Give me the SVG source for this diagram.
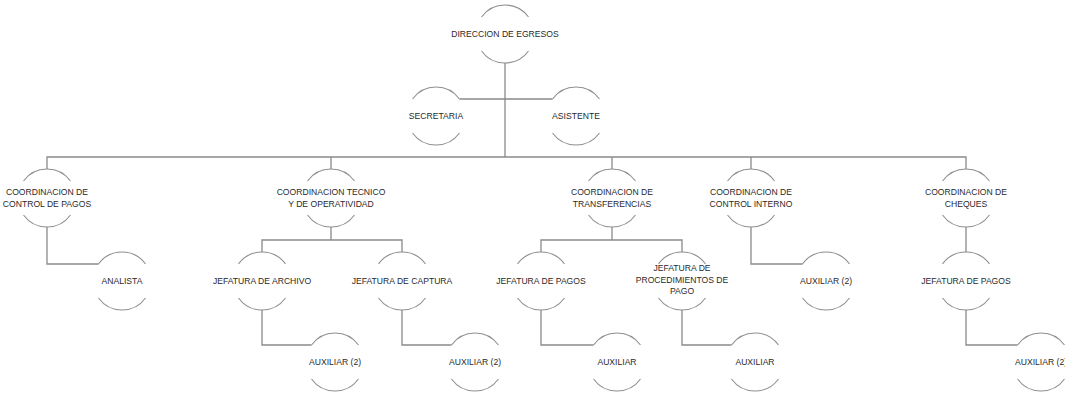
<svg xmlns="http://www.w3.org/2000/svg" width="1065" height="397" viewBox="0 0 1065 397">
<defs>
<style>
.arc{fill:none;stroke:#8f8f8f;stroke-width:1.1}
.con{fill:none;stroke:#8a8a8a;stroke-width:1.3}
text{font-family:"Liberation Sans",Arial,sans-serif;font-size:8.6px;fill:#2a2a2a;text-anchor:middle}
</style>
<path id="shape" class="arc" d="M-23.5,-17 A29,29 0 0 1 23.5,-17 M-23.5,17 A29,29 0 0 0 23.5,17"/>
</defs>
<rect width="1065" height="397" fill="#fff"/>
<g id="connectors" class="con">
<path d="M505,63 V157"/>
<path d="M459.5,99 H552.5"/>
<path d="M47,169 V157 H966 V169"/>
<path d="M331,157 V169 M612,157 V169 M751,157 V169"/>
<path d="M47,227 V264 H98.5"/>
<path d="M331,227 V240 M262,252 V240 H402 V252"/>
<path d="M262,310 V345 H311.5"/>
<path d="M402,310 V345 H451.5"/>
<path d="M612,227 V240 M541,252 V240 H682 V252"/>
<path d="M541,310 V345 H593.5"/>
<path d="M682,310 V345 H731.5"/>
<path d="M751,227 V264 H802.5"/>
<path d="M966,227 V252"/>
<path d="M966,310 V345 H1017.5"/>
</g>
<g id="n-direccion"><use href="#shape" x="505" y="34"/><text x="505" y="37">DIRECCION DE EGRESOS</text></g>
<g id="n-secretaria"><use href="#shape" x="436" y="116"/><text x="436" y="119">SECRETARIA</text></g>
<g id="n-asistente"><use href="#shape" x="576" y="116"/><text x="576" y="119">ASISTENTE</text></g>
<g id="n-c-control-pagos"><use href="#shape" x="47" y="198"/><text x="47" y="195">COORDINACION DE</text><text x="47" y="206.5">CONTROL DE PAGOS</text></g>
<g id="n-c-tecnico"><use href="#shape" x="331" y="198"/><text x="331" y="195">COORDINACION TECNICO</text><text x="331" y="206.5">Y DE OPERATIVIDAD</text></g>
<g id="n-c-transferencias"><use href="#shape" x="612" y="198"/><text x="612" y="195">COORDINACION DE</text><text x="612" y="206.5">TRANSFERENCIAS</text></g>
<g id="n-c-control-interno"><use href="#shape" x="751" y="198"/><text x="751" y="195">COORDINACION DE</text><text x="751" y="206.5">CONTROL INTERNO</text></g>
<g id="n-c-cheques"><use href="#shape" x="966" y="198"/><text x="966" y="195">COORDINACION DE</text><text x="966" y="206.5">CHEQUES</text></g>
<g id="n-analista"><use href="#shape" x="122" y="281"/><text x="122" y="284">ANALISTA</text></g>
<g id="n-j-archivo"><use href="#shape" x="262" y="281"/><text x="262" y="284">JEFATURA DE ARCHIVO</text></g>
<g id="n-j-captura"><use href="#shape" x="402" y="281"/><text x="402" y="284">JEFATURA DE CAPTURA</text></g>
<g id="n-j-pagos"><use href="#shape" x="541" y="281"/><text x="541" y="284">JEFATURA DE PAGOS</text></g>
<g id="n-j-procedimientos"><use href="#shape" x="682" y="281"/><text x="682" y="271">JEFATURA DE</text><text x="682" y="282.5">PROCEDIMIENTOS DE</text><text x="682" y="294">PAGO</text></g>
<g id="n-aux-interno"><use href="#shape" x="826" y="281"/><text x="826" y="284">AUXILIAR (2)</text></g>
<g id="n-j-pagos-cheques"><use href="#shape" x="966" y="281"/><text x="966" y="284">JEFATURA DE PAGOS</text></g>
<g id="n-aux-archivo"><use href="#shape" x="335" y="362"/><text x="335" y="365">AUXILIAR (2)</text></g>
<g id="n-aux-captura"><use href="#shape" x="475" y="362"/><text x="475" y="365">AUXILIAR (2)</text></g>
<g id="n-aux-pagos"><use href="#shape" x="617" y="362"/><text x="617" y="365">AUXILIAR</text></g>
<g id="n-aux-procedimientos"><use href="#shape" x="755" y="362"/><text x="755" y="365">AUXILIAR</text></g>
<g id="n-aux-cheques"><use href="#shape" x="1041" y="362"/><text x="1041" y="365">AUXILIAR (2)</text></g>
</svg>
